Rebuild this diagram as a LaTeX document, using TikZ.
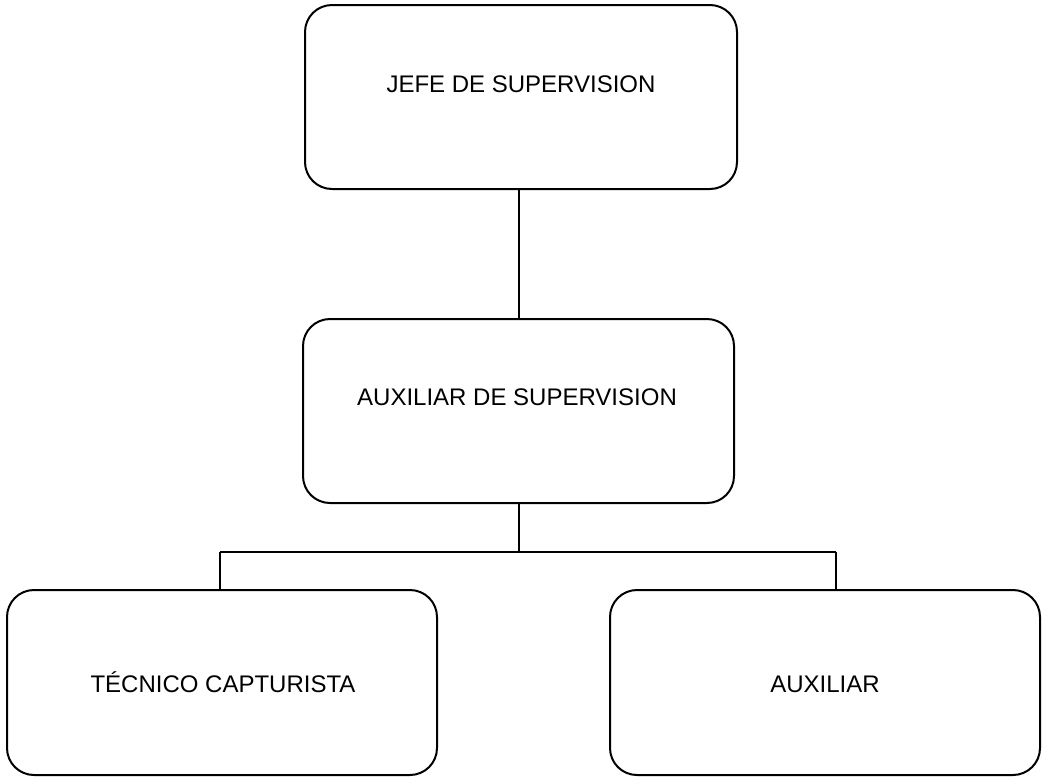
\documentclass[tikz,border=0pt]{standalone}
\usepackage{fontspec}
\setmainfont{Liberation Sans}
\begin{document}
\begin{tikzpicture}[x=1pt,y=-1pt,
  box/.style={draw=black, line width=2pt, rounded corners=27pt, rectangle, inner sep=0pt},
  lbl/.style={anchor=base, inner sep=0pt, font=\fontsize{24}{28}\selectfont},
  conn/.style={draw=black, line width=2pt}]
\useasboundingbox (0,0) rectangle (1045,777);
\node[box, minimum width=432pt, minimum height=184pt] (top) at (521,97) {};
\node[box, minimum width=431pt, minimum height=184pt] (mid) at (518.5,411) {};
\node[box, minimum width=430pt, minimum height=185pt] (left) at (222,682.5) {};
\node[box, minimum width=430pt, minimum height=185pt] (right) at (825,682.5) {};
\node[lbl] (ttop) at (521,92) {JEFE DE SUPERVISION};
\node[lbl] (tmid) at (517,405.5) {AUXILIAR DE SUPERVISION};
\node[lbl] (tleft) at (223,692) {TÉCNICO CAPTURISTA};
\node[lbl] (tright) at (825,692) {AUXILIAR};
\coordinate (jc) at (519,552);
\coordinate (jl) at (220,552);
\coordinate (jr) at (836,552);
\draw[conn] (jc |- top.south) -- (jc |- mid.north);
\draw[conn] (jc |- mid.south) -- (jc);
\draw[conn] (jl) -- (jr);
\draw[conn] (jl) -- (jl |- left.north);
\draw[conn] (jr) -- (jr |- right.north);
\end{tikzpicture}
\end{document}
